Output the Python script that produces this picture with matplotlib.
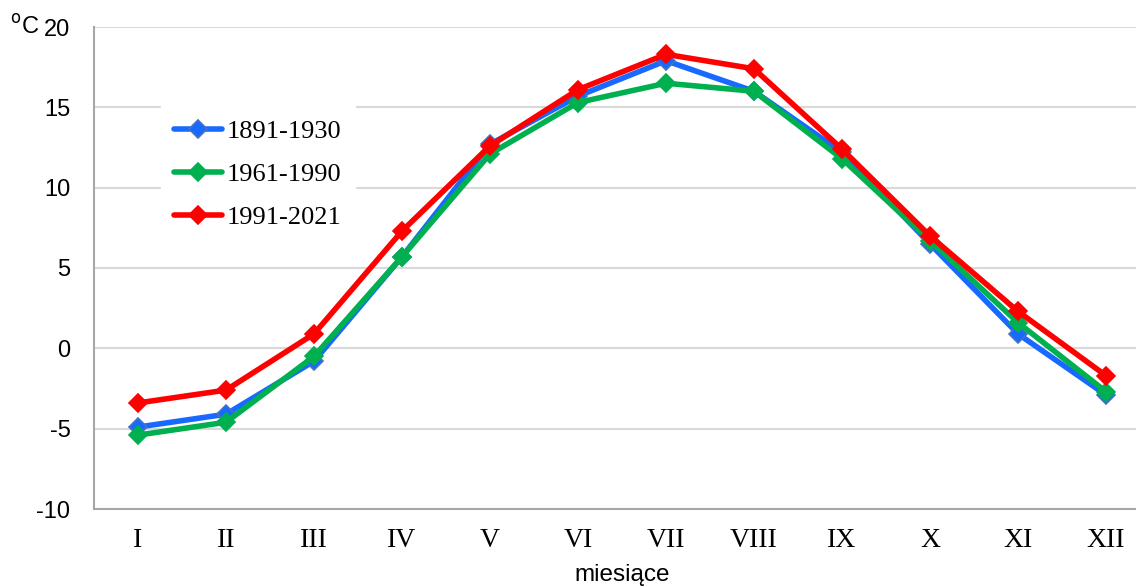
import matplotlib.pyplot as plt

plt.rcParams['axes.unicode_minus'] = False

# miesięczne średnie temperatury (°C)
months = ['I', 'II', 'III', 'IV', 'V', 'VI', 'VII', 'VIII', 'IX', 'X', 'XI', 'XII']
t_1891_1930 = [-4.9, -4.1, -0.8, 5.7, 12.7, 15.7, 17.9, 16.0, 12.2, 6.5, 0.9, -2.9]
t_1961_1990 = [-5.4, -4.6, -0.5, 5.7, 12.1, 15.3, 16.5, 16.0, 11.8, 6.7, 1.6, -2.7]
t_1991_2021 = [-3.4, -2.6, 0.9, 7.3, 12.6, 16.1, 18.3, 17.4, 12.4, 7.0, 2.3, -1.7]

series = [
    ('1891-1930', t_1891_1930, '#1769ff', '#4472c4'),
    ('1961-1990', t_1961_1990, '#00b050', '#00b050'),
    ('1991-2021', t_1991_2021, '#ff0000', '#ff0000'),
]

fig = plt.figure(figsize=(11.36, 5.87), dpi=100)
ax = fig.add_axes([94 / 1136, 1 - 509 / 587, 1056 / 1136, 482 / 587])

x = list(range(len(months)))
for label, vals, col, edge in series:
    ax.plot(x, vals, color=col, lw=4.0, marker='D', ms=9,
            mfc=col, mec=edge, mew=1.2, label=label, solid_capstyle='round')

ax.set_xlim(-0.5, 11.5)
ax.set_ylim(-10, 20)
ax.set_yticks(range(-10, 21, 5))
ax.set_xticks(x)
ax.set_xticklabels(months, family='Liberation Serif', fontsize=20)
ax.tick_params(axis='x', length=0, pad=14)
ax.tick_params(axis='y', length=0, pad=17, labelsize=17)
for t in ax.get_yticklabels():
    t.set_family('Liberation Sans')

ax.grid(axis='y', color='#d9d9d9', lw=1.5)
ax.set_axisbelow(True)
for s in ['top', 'right']:
    ax.spines[s].set_visible(False)
ax.spines['left'].set_color('#a6a6a6')
ax.spines['left'].set_linewidth(1.5)
ax.spines['bottom'].set_color('#a6a6a6')
ax.spines['bottom'].set_linewidth(1.5)

leg = ax.legend(loc='upper left', bbox_to_anchor=(148 / 1136, 1 - 93 / 587),
                bbox_transform=fig.transFigure, frameon=True, fancybox=False,
                edgecolor='white', facecolor='white', framealpha=1,
                prop={'family': 'Liberation Serif', 'size': 19},
                handlelength=1.8, handletextpad=0.2, labelspacing=0.75,
                borderpad=0.5)

fig.text(10 / 1136, 1 - 27 / 587, r'$^{\mathrm{o}}$C', fontsize=17,
         family='Liberation Sans', va='center', ha='left')
fig.text(622 / 1136, 1 - 575 / 587, 'miesiące', fontsize=17.5,
         family='Liberation Sans', ha='center', va='center')

fig.savefig('out.png', dpi=100)
